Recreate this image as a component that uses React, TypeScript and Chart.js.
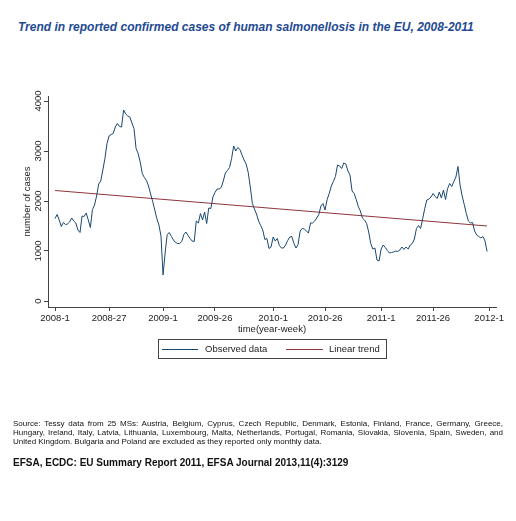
import React, { useEffect, useRef } from "react";
import { Chart, registerables } from "chart.js";

Chart.register(...registerables);

// Weekly confirmed cases, index 0 = 2008-1 ... 208 = 2011-52
const observedCases = [
  1650, 1730, 1620, 1490, 1570, 1530, 1540, 1580, 1660, 1600,
  1560, 1420, 1370, 1700, 1690, 1760, 1620, 1470, 1830, 1920,
  2100, 2340, 2400, 2620, 2850, 3150, 3300, 3330, 3350, 3480,
  3550, 3490, 3480, 3820, 3740, 3700, 3680, 3560, 3450, 3050,
  2950, 2780, 2550, 2470, 2410, 2300, 2140, 1990, 1820, 1650,
  1520, 1300, 520, 960, 1330, 1370, 1290, 1220, 1170, 1150,
  1150, 1190, 1330, 1380, 1310, 1250, 1200, 1190, 1600, 1560,
  1750, 1620, 1780, 1550, 1860, 1850, 2080, 2170, 2240, 2240,
  2270, 2400, 2560, 2610, 2670, 2850, 3100, 3000, 3070, 3030,
  2920, 2820, 2740, 2570, 2280, 1950, 1840, 1740, 1600, 1510,
  1420, 1230, 1250, 1050, 1080, 1280, 1200, 1250, 1110, 1060,
  1060, 1120, 1210, 1280, 1290, 1150, 1060, 1130, 1400, 1450,
  1440, 1400, 1360, 1560, 1560, 1600, 1660, 1730, 1900, 1950,
  1820, 2030, 2150, 2300, 2390, 2490, 2720, 2700, 2650, 2760,
  2740, 2600, 2520, 2200, 2150, 2030, 1890, 1800, 1660, 1620,
  1550, 1380, 1150, 1040, 1060, 820, 800, 1040, 1120, 1070,
  1010, 960, 970, 980, 1000, 990, 1020, 1080, 1030, 1080,
  1040, 1120, 1150, 1240, 1450, 1510, 1450, 1650, 1850, 2020,
  2040, 2080, 2150, 2090, 2050, 2180, 2060, 2220, 2030, 2250,
  2350, 2290, 2390, 2480, 2690, 2320, 2100, 1930, 1750, 1600,
  1560, 1570, 1400, 1320, 1290, 1260, 1290, 1200, 990,
];

const trendWeeks = [0, 208];
const trendValues = [2210, 1500];

const xTickWeeks = [0, 26, 52, 77, 105, 130, 157, 182, 209];
const xTickLabels = [
  "2008-1", "2008-27", "2009-1", "2009-26", "2010-1",
  "2010-26", "2011-1", "2011-26", "2012-1",
];
const yTickValues = [0, 1000, 2000, 3000, 4000];
const yTickLabels = ["0", "1000", "2000", "3000", "4000"];

const seriesNames = ["Observed data", "Linear trend"];
const seriesColors = ["#1a476f", "#90353b"];

const titleText =
  "Trend in reported confirmed cases of human salmonellosis in the EU, 2008-2011";
const sourceText =
  "Source: Tessy data from 25 MSs: Austria, Belgium, Cyprus, Czech Republic, Denmark, Estonia, Finland, France, Germany, Greece, Hungary, Ireland, Italy, Latvia, Lithuania, Luxembourg, Malta, Netherlands, Portugal, Romania, Slovakia, Slovenia, Spain, Sweden, and United Kingdom. Bulgaria and Poland are excluded as they reported only monthly data.";
const footerText = "EFSA, ECDC: EU Summary Report 2011, EFSA Journal 2013,11(4):3129";

const FONT = "'Liberation Sans', Arial, sans-serif";
const TEXT_COLOR = "#222";

export default function App() {
  const canvasRef = useRef<HTMLCanvasElement | null>(null);

  useEffect(() => {
    document.body.style.margin = "0";
    const canvas = canvasRef.current;
    if (!canvas) return;
    const axisColor = "#444";
    const chart = new Chart(canvas, {
      type: "line",
      data: {
        datasets: [
          {
            label: seriesNames[0],
            data: observedCases.map((v, i) => ({ x: i, y: v })),
            borderColor: seriesColors[0],
            borderWidth: 1,
            pointRadius: 0,
            tension: 0,
            fill: false,
          },
          {
            label: seriesNames[1],
            data: trendWeeks.map((w, i) => ({ x: w, y: trendValues[i] })),
            borderColor: seriesColors[1],
            borderWidth: 1,
            pointRadius: 0,
            tension: 0,
            fill: false,
          },
        ],
      },
      options: {
        responsive: false,
        animation: false,
        devicePixelRatio: 1,
        layout: { padding: { left: 0, top: 96, right: 20, bottom: 184 } },
        plugins: {
          legend: { display: false },
          tooltip: { enabled: false },
          title: { display: false },
        },
        scales: {
          x: {
            type: "linear",
            min: -3.4,
            max: 212.3,
            afterBuildTicks: (s: any) => {
              s.ticks = xTickWeeks.map((v) => ({ value: v }));
            },
            afterFit: (s: any) => {
              s.height = 30;
            },
            ticks: {
              autoSkip: false,
              minRotation: 0,
              maxRotation: 0,
              padding: 1.3,
              color: TEXT_COLOR,
              font: { family: FONT, size: 9.5 },
              callback: (v: any) => {
                const i = xTickWeeks.indexOf(Number(v));
                return i >= 0 ? xTickLabels[i] : "";
              },
            },
            grid: {
              drawOnChartArea: false,
              tickLength: 4,
              color: axisColor,
            },
            border: { color: axisColor, width: 1 },
            title: {
              display: true,
              text: "time(year-week)",
              color: TEXT_COLOR,
              font: { family: FONT, size: 9.5 },
              padding: { top: 0, bottom: 2.3 },
            },
          },
          y: {
            type: "linear",
            min: -120,
            max: 4100,
            afterBuildTicks: (s: any) => {
              s.ticks = yTickValues.map((v) => ({ value: v }));
            },
            afterFit: (s: any) => {
              s.width = 48;
            },
            ticks: {
              minRotation: 90,
              maxRotation: 90,
              crossAlign: "center",
              padding: -5,
              color: TEXT_COLOR,
              font: { family: FONT, size: 9.5 },
              callback: (v: any) => {
                const i = yTickValues.indexOf(Number(v));
                return i >= 0 ? yTickLabels[i] : "";
              },
            },
            grid: {
              drawOnChartArea: false,
              tickLength: 4,
              color: axisColor,
            },
            border: { color: axisColor, width: 1 },
            title: {
              display: true,
              text: "number of cases",
              color: TEXT_COLOR,
              font: { family: FONT, size: 9.5 },
              padding: { top: 21.6, bottom: 0 },
            },
          },
        },
      },
    });
    return () => chart.destroy();
  }, []);

  return (
    <div
      style={{
        position: "absolute",
        left: 0,
        top: 0,
        width: 516,
        height: 521,
        background: "#fff",
        overflow: "hidden",
      }}
    >
      <div
        style={{
          position: "absolute",
          left: 18,
          top: 21,
          whiteSpace: "nowrap",
          fontFamily: FONT,
          fontWeight: "bold",
          fontStyle: "italic",
          fontSize: 12,
          lineHeight: "13.4px",
          color: "#1f4a93",
        }}
      >
        {titleText}
      </div>
      <canvas
        ref={canvasRef}
        width={516}
        height={521}
        style={{ position: "absolute", left: 0, top: 0, width: 516, height: 521 }}
      />
      <div
        style={{
          position: "absolute",
          left: 158,
          top: 339,
          width: 227,
          height: 18,
          border: "1px solid #444",
          fontFamily: FONT,
          fontSize: 9.5,
          color: TEXT_COLOR,
        }}
      >
        <div style={{ position: "absolute", left: 3, top: 9, width: 36, height: 1, background: seriesColors[0] }} />
        <div style={{ position: "absolute", left: 46, top: 3, lineHeight: "12px", whiteSpace: "nowrap" }}>
          {seriesNames[0]}
        </div>
        <div style={{ position: "absolute", left: 127, top: 9, width: 37, height: 1, background: seriesColors[1] }} />
        <div style={{ position: "absolute", left: 170, top: 3, lineHeight: "12px", whiteSpace: "nowrap" }}>
          {seriesNames[1]}
        </div>
      </div>
      <div
        style={{
          position: "absolute",
          left: 13,
          top: 419,
          width: 490,
          fontFamily: FONT,
          fontSize: 8,
          lineHeight: "9px",
          textAlign: "justify",
          color: "#111",
        }}
      >
        {sourceText}
      </div>
      <div
        style={{
          position: "absolute",
          left: 13,
          top: 457,
          whiteSpace: "nowrap",
          fontFamily: FONT,
          fontWeight: "bold",
          fontSize: 10,
          lineHeight: "12px",
          color: "#111",
        }}
      >
        {footerText}
      </div>
    </div>
  );
}
